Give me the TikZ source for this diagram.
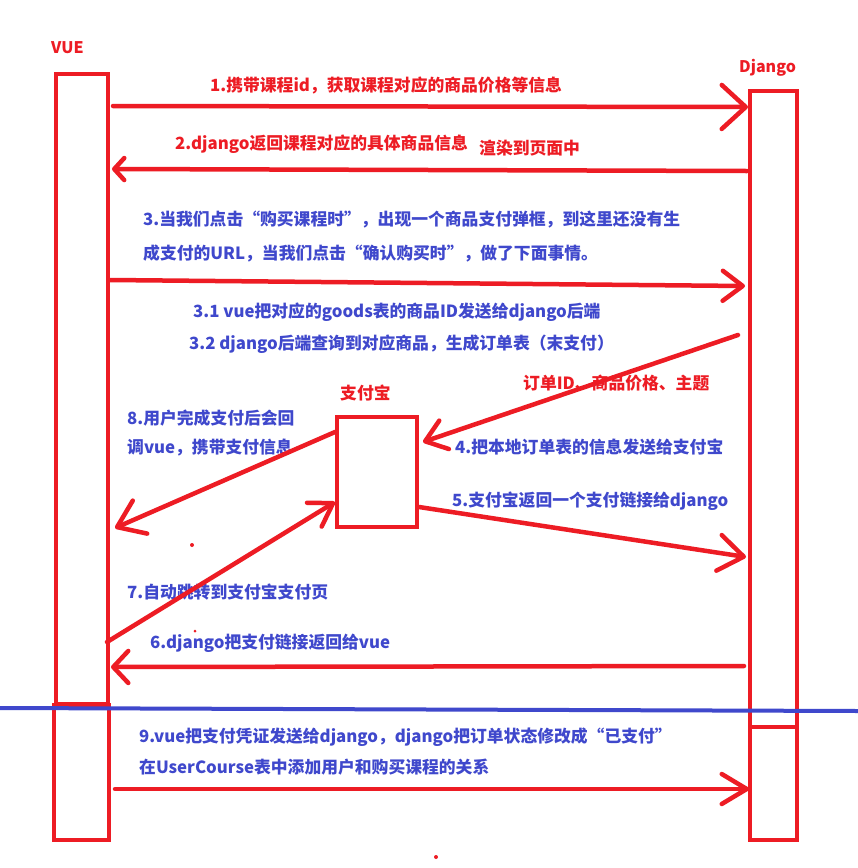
\documentclass[tikz,border=0pt]{standalone}
\usepackage{fontspec}
\setmainfont{Noto Sans CJK SC}
\usetikzlibrary{arrows.meta,calc}
\definecolor{pr}{RGB}{237,28,36}
\definecolor{pb}{RGB}{63,72,204}
\begin{document}
\begin{tikzpicture}[x=1pt,y=-1pt,
  lbl/.style={anchor=west, inner sep=0, font=\fontsize{16.8}{20}\selectfont\bfseries, text height=14.8pt, text depth=2pt},
  rl/.style={lbl, text=pr},
  bl/.style={lbl, text=pb},
  life/.style={draw=pr, line width=4pt, rectangle, inner sep=0, outer sep=0},
  arr/.style={draw=pr, line width=4.5pt, line cap=round, line join=round},
]
\useasboundingbox (0,0) rectangle (858,868);
\fill[white] (0,0) rectangle (858,868);

% lifelines
\node[life, minimum width=52pt, minimum height=630pt] (vue) at (82,389) {};
\node[life, minimum width=55pt, minimum height=135pt] (vue2) at (81.5,772.5) {};
\node[life, minimum width=47pt, minimum height=636pt] (dj) at (773.5,409) {};
\node[life, minimum width=47pt, minimum height=113pt] (dj2) at (773.5,783.5) {};
\node[life, minimum width=80pt, minimum height=110pt] (ali) at (377,472) {};

% separator
\draw[pb, line width=4pt] (0,708) -- (858,711);

% titles
\node[rl, font=\fontsize{16}{19}\selectfont\bfseries] (tvue) at (51,47) {VUE};
\node[rl, font=\fontsize{16}{19}\selectfont\bfseries] (tdj) at (739,66) {Django};
\node[rl] (tali) at (340,393) {支付宝};

% labels
\node[rl] (t1) at (210,85) {1.携带课程id，获取课程对应的商品价格等信息};
\node[rl] (t2) at (175,143) {2.django返回课程对应的具体商品信息};
\node[rl] (t2b) at (479,148) {渲染到页面中};
\node[bl] (t3a) at (143,219) {3.当我们点击“购买课程时”，出现一个商品支付弹框，到这里还没有生};
\node[bl] (t3b) at (143,253) {成支付的URL，当我们点击“确认购买时”，做了下面事情。};
\node[bl] (t31) at (193,311) {3.1 vue把对应的goods表的商品ID发送给django后端};
\node[bl] (t32) at (189,343) {3.2 django后端查询到对应商品，生成订单表（末支付）};
\node[rl] (t4r) at (523,383) {订单ID、商品价格、主题};
\node[bl] (t8a) at (127,418) {8.用户完成支付后会回};
\node[bl] (t8b) at (127,447) {调vue，携带支付信息};
\node[bl] (t4) at (455,447) {4.把本地订单表的信息发送给支付宝};
\node[bl] (t5) at (452,500) {5.支付宝返回一个支付链接给django};
\node[bl] (t7) at (127,592) {7.自动跳转到支付宝支付页};
\node[bl] (t6) at (150,642) {6.django把支付链接返回给vue};
\node[bl] (t9a) at (139,736) {9.vue把支付凭证发送给django，django把订单状态修改成“已支付”};
\node[bl] (t9b) at (139,767) {在UserCourse表中添加用户和购买课程的关系};

% arrows
\draw[arr, -{Straight Barb[round, length=24pt, width=44pt]}]
  ($(vue.east|-0,106)+(5,0)$) -- ($(dj.west|-0,107)+(-2,0)$);
\draw[arr, -{Straight Barb[round, length=10pt, width=22pt]}]
  ($(dj.west|-0,171)+(-3,0)$) -- ($(vue.east|-0,169)+(4,0)$);
\draw[arr, -{Straight Barb[round, length=20pt, width=30pt]}]
  ($(vue.east|-0,280)+(2,0)$) -- ($(dj.west|-0,286)+(-5,0)$);
\draw[arr, -{Straight Barb[round, length=20pt, width=30pt]}]
  ($(dj.west|-0,335)+(-12,0)$) -- ($(ali.east|-0,442)+(6,0)$);
\draw[arr, -{Straight Barb[round, length=25pt, width=36pt]}]
  ($(ali.east|-0,507)+(2,0)$) -- ($(dj.west|-0,557)+(-4,0)$);
\draw[arr, -{Straight Barb[round, length=15pt, width=32pt]}]
  ($(dj.west|-0,666)+(-6,0)$) -- ($(vue.east|-0,667)+(3,0)$);
\draw[arr, -{Straight Barb[round, length=22pt, width=28pt]}]
  ($(vue.east|-0,642)+(-1,0)$) -- ($(ali.west|-0,502)+(-2,0)$);
\draw[arr, -{Straight Barb[round, length=25pt, width=36pt]}]
  ($(ali.west|-0,432)+(-2,0)$) -- ($(vue.east|-0,528)+(7,0)$);
\draw[arr, -{Straight Barb[round, length=25pt, width=30pt]}]
  ($(vue2.east|-0,789)+(6,0)$) -- ($(dj2.west|-0,789)+(-1,0)$);

% stray marks
\fill[pr] (192,545) circle (2);
\fill[pr] (195,631) circle (1.5);
\fill[pr] (436,857) circle (2);
\end{tikzpicture}
\end{document}
